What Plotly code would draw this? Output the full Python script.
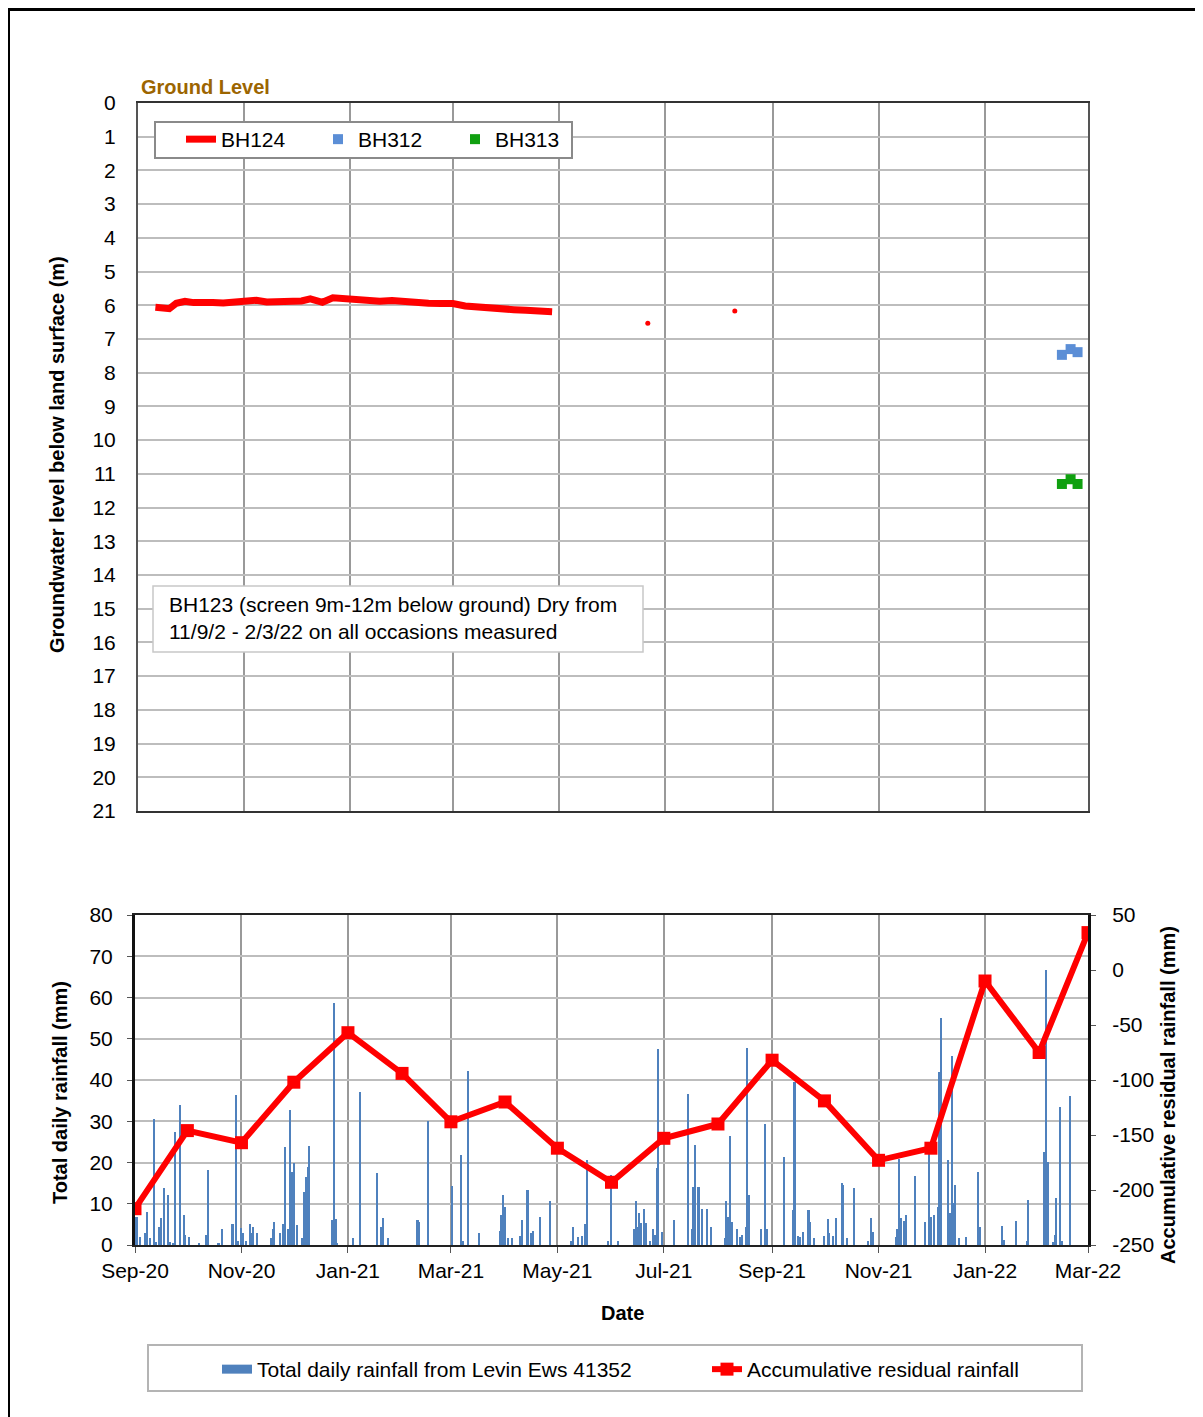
import plotly.graph_objects as go
import pandas as pd

# ---------------- DATA ----------------
# BH124 groundwater level below land surface (m)
bh124_dates = ["2020-09-11", "2020-09-15", "2020-09-19", "2020-09-23", "2020-09-28", "2020-10-03",
               "2020-10-08", "2020-10-14", "2020-10-20", "2020-10-26", "2020-11-01", "2020-11-08",
               "2020-11-14", "2020-11-21", "2020-11-28", "2020-12-04", "2020-12-09", "2020-12-16",
               "2020-12-22", "2020-12-28", "2021-01-04", "2021-01-11", "2021-01-18", "2021-01-25",
               "2021-02-01", "2021-02-08", "2021-02-15", "2021-02-22", "2021-03-01", "2021-03-08",
               "2021-03-15", "2021-03-22", "2021-03-29", "2021-04-05", "2021-04-12", "2021-04-19",
               "2021-04-27"]
bh124_level = [6.06, 6.08, 6.10, 5.94, 5.88, 5.92,
               5.94, 5.92, 5.93, 5.91, 5.90, 5.85,
               5.90, 5.88, 5.90, 5.87, 5.81, 5.91,
               5.78, 5.81, 5.84, 5.83, 5.88, 5.86,
               5.90, 5.91, 5.94, 5.95, 5.95, 6.02,
               6.06, 6.10, 6.12, 6.13, 6.15, 6.17,
               6.19]
bh124_spot_dates = ["2021-06-21", "2021-08-10"]
bh124_spot_level = [6.53, 6.17]

bh312_dates = ["2022-02-14", "2022-02-19", "2022-02-23"]
bh312_level = [7.47, 7.30, 7.39]
bh313_dates = ["2022-02-14", "2022-02-19", "2022-02-23"]
bh313_level = [11.30, 11.16, 11.30]

# Daily rainfall (mm); days counted from 1 Sep 2020
rain_start = "2020-09-01"
rain_day = [1, 3, 6, 7, 9, 11, 12, 14, 15, 17, 19, 20, 22, 23, 26, 28, 29, 31, 37, 41, 42, 48, 50,
            56, 58, 59, 61, 62, 64, 66, 67, 68, 70, 78, 79, 80, 83, 85, 86, 88, 89, 90, 91, 93,
            96, 97, 98, 99, 100, 113, 114, 115, 116, 125, 129, 139, 141, 142, 145, 162, 163, 168,
            182, 187, 188, 191, 197, 209, 210, 211, 212, 214, 216, 221, 222, 225, 227, 228, 232,
            238, 250, 251, 254, 256, 258, 259, 271, 273, 277, 286, 287, 288, 289, 290, 292, 293,
            295, 297, 298, 299, 300, 302, 309, 317, 319, 320, 321, 323, 325, 328, 330, 338, 339,
            340, 341, 342, 345, 347, 348, 350, 351, 352, 359, 361, 362, 372, 377, 378, 380, 381,
            383, 386, 387, 389, 395, 397, 398, 400, 402, 405, 406, 408, 412, 420, 422, 423, 436,
            437, 438, 439, 441, 442, 447, 453, 455, 456, 458, 460, 461, 462, 466, 467, 468, 469,
            470, 472, 476, 483, 484, 497, 498, 505, 511, 512, 521, 522, 523, 526, 527, 528, 530,
            531, 536]
rain_mm = [6.9, 1.9, 2.8, 8.1, 1.6, 30.5, 0.8, 4.3, 6.5, 13.7, 12.1, 0.8, 0.4, 27.3, 33.9, 7.2, 2.4,
           1.9, 0.6, 2.4, 18.3, 0.4, 3.8,
           5.0, 36.3, 1.0, 4.1, 2.8, 1.0, 5.0, 3.0, 4.4, 2.8, 1.6, 3.8, 5.6, 2.8, 5.0, 23.7, 3.8,
           32.7, 17.8, 19.8, 4.8,
           1.6, 12.8, 16.6, 18.9, 24.0, 6.0, 58.7, 6.2, 0.4, 1.6, 37.0, 17.5, 4.4, 6.5, 1.6, 6.1,
           5.6, 30.1,
           14.3, 21.8, 1.0, 42.3, 2.8, 3.5, 7.2, 12.1, 9.3, 1.6, 1.6, 2.2, 6.1, 13.3, 2.8, 3.5, 6.9,
           10.7, 1.0, 4.4, 1.9, 2.2, 5.0, 20.5, 1.0, 17.0, 1.0, 3.8, 10.7, 4.4, 7.8, 5.3, 8.7, 5.3,
           1.0, 4.0, 2.4, 18.6, 47.5, 3.2, 6.1, 36.6, 3.8, 14.0, 24.2, 14.0, 8.7, 8.7, 4.4, 1.6,
           10.7,
           6.9, 26.5, 5.6, 4.0, 1.9, 2.4, 4.4, 47.8, 12.1, 3.8, 29.3, 3.8, 21.4, 8.5, 39.4, 2.2,
           1.9,
           3.2, 8.5, 5.6, 1.6, 2.2, 6.2, 2.8, 2.2, 6.5, 15.0, 14.5, 1.6, 13.7, 1.0, 6.5, 3.2, 1.9,
           3.8, 20.8, 6.5, 5.9, 7.2, 16.8, 5.6, 23.0, 6.9, 7.2, 9.3, 42.0, 55.0, 20.6, 7.7, 45.7,
           10.1,
           14.5, 1.6, 2.0, 17.8, 4.4, 4.7, 1.2, 5.9, 1.0, 10.9, 22.6, 66.7, 20.2, 0.7, 2.4, 11.3,
           33.5,
           1.0, 36.1]

# Accumulative residual rainfall (mm), monthly
resid_dates = ["2020-09-01", "2020-10-01", "2020-11-01", "2020-12-01", "2021-01-01", "2021-02-01",
               "2021-03-01", "2021-04-01", "2021-05-01", "2021-06-01", "2021-07-01", "2021-08-01",
               "2021-09-01", "2021-10-01", "2021-11-01", "2021-12-01", "2022-01-01", "2022-02-01",
               "2022-03-01"]
resid_mm = [-217, -146, -157, -102, -57, -94, -138, -120, -162, -193, -153, -140,
            -82, -119, -173, -162, -10, -75, 34]

date_range = ["2020-09-01", "2022-03-01"]
depth_ticks = list(range(0, 22))
rain_ticks = [0, 10, 20, 30, 40, 50, 60, 70, 80]
resid_ticks = [-250, -200, -150, -100, -50, 0, 50]

# ---------------- FIGURE ----------------
# the page body adds an 8px margin; the figure is laid out in page pixels minus that offset
OFF = 8
W, H = 1203 - OFF, 1417 - OFF
FONT = "Liberation Sans, Arial, sans-serif"
BLUE = "#4f81bd"


def fx(x):
    return (x - OFF) / W


def fy(y):
    return 1 - (y - OFF) / H


rain_dates = pd.Timestamp(rain_start) + pd.to_timedelta(rain_day, unit="D")

fig = go.Figure()

# top chart
fig.add_trace(go.Scatter(x=bh124_dates, y=bh124_level, mode="lines", name="BH124",
                         line=dict(color="#ff0000", width=7), xaxis="x", yaxis="y",
                         legend="legend"))
fig.add_trace(go.Scatter(x=bh124_spot_dates, y=bh124_spot_level, mode="markers",
                         marker=dict(color="#ff0000", size=5), showlegend=False,
                         xaxis="x", yaxis="y"))
fig.add_trace(go.Scatter(x=bh312_dates, y=bh312_level, mode="markers", name="BH312",
                         marker=dict(symbol="square", color="#5b8ed6", size=10),
                         xaxis="x", yaxis="y", legend="legend"))
fig.add_trace(go.Scatter(x=bh313_dates, y=bh313_level, mode="markers", name="BH313",
                         marker=dict(symbol="square", color="#10a010", size=10),
                         xaxis="x", yaxis="y", legend="legend"))

# bottom chart
fig.add_trace(go.Bar(x=rain_dates, y=rain_mm, width=86400000 * 0.9,
                     name="Total daily rainfall from Levin Ews 41352",
                     marker=dict(color=BLUE, line=dict(width=0)), showlegend=False,
                     xaxis="x2", yaxis="y2"))
# legend stand-in for the bar series (wide flat swatch)
fig.add_trace(go.Scatter(x=[None], y=[None], mode="lines",
                         name="Total daily rainfall from Levin Ews 41352",
                         line=dict(color=BLUE, width=9), xaxis="x2", yaxis="y2",
                         legend="legend2"))
fig.add_trace(go.Scatter(x=resid_dates, y=resid_mm, mode="lines+markers",
                         name="Accumulative residual rainfall",
                         line=dict(color="#ff0000", width=6),
                         marker=dict(symbol="square", color="#ff0000", size=13),
                         xaxis="x2", yaxis="y3", legend="legend2"))

grid_v = "#999999"
grid_h = "#bdbdbd"
TICK = 21

fig.update_layout(
    width=W, height=H,
    margin=dict(l=0, r=0, t=0, b=0, autoexpand=False),
    paper_bgcolor="white", plot_bgcolor="white",
    font=dict(family=FONT, size=20, color="black"),
    showlegend=True,
    xaxis=dict(domain=[fx(138), fx(1088)], anchor="y", type="date", range=date_range,
               dtick="M2", tick0="2020-09-01", showticklabels=False, ticks="",
               showgrid=True, gridcolor=grid_v, gridwidth=2, automargin=False,
               showline=True, linecolor="#333333", linewidth=2, mirror=True, zeroline=False),
    yaxis=dict(domain=[fy(811), fy(103)], anchor="x", range=[21, 0], tickvals=depth_ticks,
               showgrid=True, gridcolor=grid_h, gridwidth=2, ticks="", automargin=False,
               ticklabelstandoff=16, tickfont=dict(size=TICK),
               showline=True, linecolor="#555555", linewidth=2, mirror=True, zeroline=False),
    xaxis2=dict(domain=[fx(135), fx(1088)], anchor="y2", type="date", range=date_range,
                dtick="M2", tick0="2020-09-01", tickformat="%b-%y", ticks="outside",
                ticklen=6, tickcolor="#555555", tickfont=dict(size=TICK), automargin=False,
                showgrid=True, gridcolor=grid_v, gridwidth=2,
                showline=True, linecolor="#222222", linewidth=2, mirror=True, zeroline=False),
    yaxis2=dict(domain=[fy(1245), fy(915)], anchor="x2", range=[0, 80], tickvals=rain_ticks,
                showgrid=True, gridcolor=grid_h, gridwidth=2, ticks="outside", ticklen=5,
                tickcolor="#555555", ticklabelstandoff=10, tickfont=dict(size=TICK),
                automargin=False,
                showline=True, linecolor="#111111", linewidth=3, mirror=True, zeroline=False),
    yaxis3=dict(overlaying="y2", side="right", anchor="x2", range=[-250, 50],
                tickvals=resid_ticks, ticktext=[str(v) for v in resid_ticks],
                showgrid=False, ticks="outside", ticklen=5, tickcolor="#555555",
                ticklabelstandoff=12, tickfont=dict(size=TICK), automargin=False,
                showline=True, linecolor="#111111", linewidth=3, zeroline=False),
    legend=dict(x=fx(181), y=fy(119), xanchor="left", yanchor="top", orientation="h",
                bgcolor="rgba(0,0,0,0)", borderwidth=0, font=dict(size=TICK),
                entrywidth=92, entrywidthmode="pixels", tracegroupgap=0),
    legend2=dict(x=fx(217), y=fy(1349), xanchor="left", yanchor="top", orientation="h",
                 bgcolor="rgba(0,0,0,0)", borderwidth=0, font=dict(size=TICK),
                 entrywidth=445, entrywidthmode="pixels"),
    bargap=0,
)

shapes = []
# outer frame (top and left edges of the surrounding box)
shapes.append(dict(type="line", xref="paper", yref="paper", x0=fx(8), x1=fx(1203),
                   y0=fy(9.5), y1=fy(9.5), line=dict(color="black", width=3)))
shapes.append(dict(type="line", xref="paper", yref="paper", x0=fx(9), x1=fx(9),
                   y0=fy(8), y1=fy(1417), line=dict(color="black", width=2)))
# top legend box
shapes.append(dict(type="rect", xref="paper", yref="paper", x0=fx(155), x1=fx(572),
                   y0=fy(158), y1=fy(122), fillcolor="white",
                   line=dict(color="#8a8a8a", width=2), layer="above"))
# BH123 text box
shapes.append(dict(type="rect", xref="paper", yref="paper", x0=fx(153), x1=fx(643),
                   y0=fy(652), y1=fy(586), fillcolor="white",
                   line=dict(color="#c8c8c8", width=1.5), layer="above"))
# bottom legend box
shapes.append(dict(type="rect", xref="paper", yref="paper", x0=fx(148), x1=fx(1082),
                   y0=fy(1391), y1=fy(1345), fillcolor="white",
                   line=dict(color="#b4b4b4", width=2), layer="above"))
fig.update_layout(shapes=shapes)

annotations = [
    dict(text="<b>Ground Level</b>", x=fx(139), y=fy(87), xanchor="left", yanchor="middle",
         font=dict(family="Liberation Sans Narrow, Liberation Sans, Arial", size=20,
                   color="#9c6500")),
    dict(text="<b>Groundwater level below land surface (m)</b>", x=fx(57), y=fy(455),
         textangle=-90, xanchor="center", yanchor="middle", font=dict(size=20)),
    dict(text="BH123 (screen 9m-12m below ground) Dry from<br>11/9/2 - 2/3/22 on all occasions measured",
         x=fx(167), y=fy(618), xanchor="left", yanchor="middle", align="left",
         font=dict(size=21)),
    dict(text="<b>Total daily rainfall (mm)</b>", x=fx(60), y=fy(1092), textangle=-90,
         xanchor="center", yanchor="middle", font=dict(size=20)),
    dict(text="<b>Accumulative residual rainfall (mm)</b>", x=fx(1168), y=fy(1095),
         textangle=-90, xanchor="center", yanchor="middle", font=dict(size=20)),
    dict(text="<b>Date</b>", x=fx(622), y=fy(1313), xanchor="center", yanchor="middle",
         font=dict(size=20)),
]
for a in annotations:
    a.update(xref="paper", yref="paper", showarrow=False)
fig.update_layout(annotations=annotations)

fig.write_html("out.html")
